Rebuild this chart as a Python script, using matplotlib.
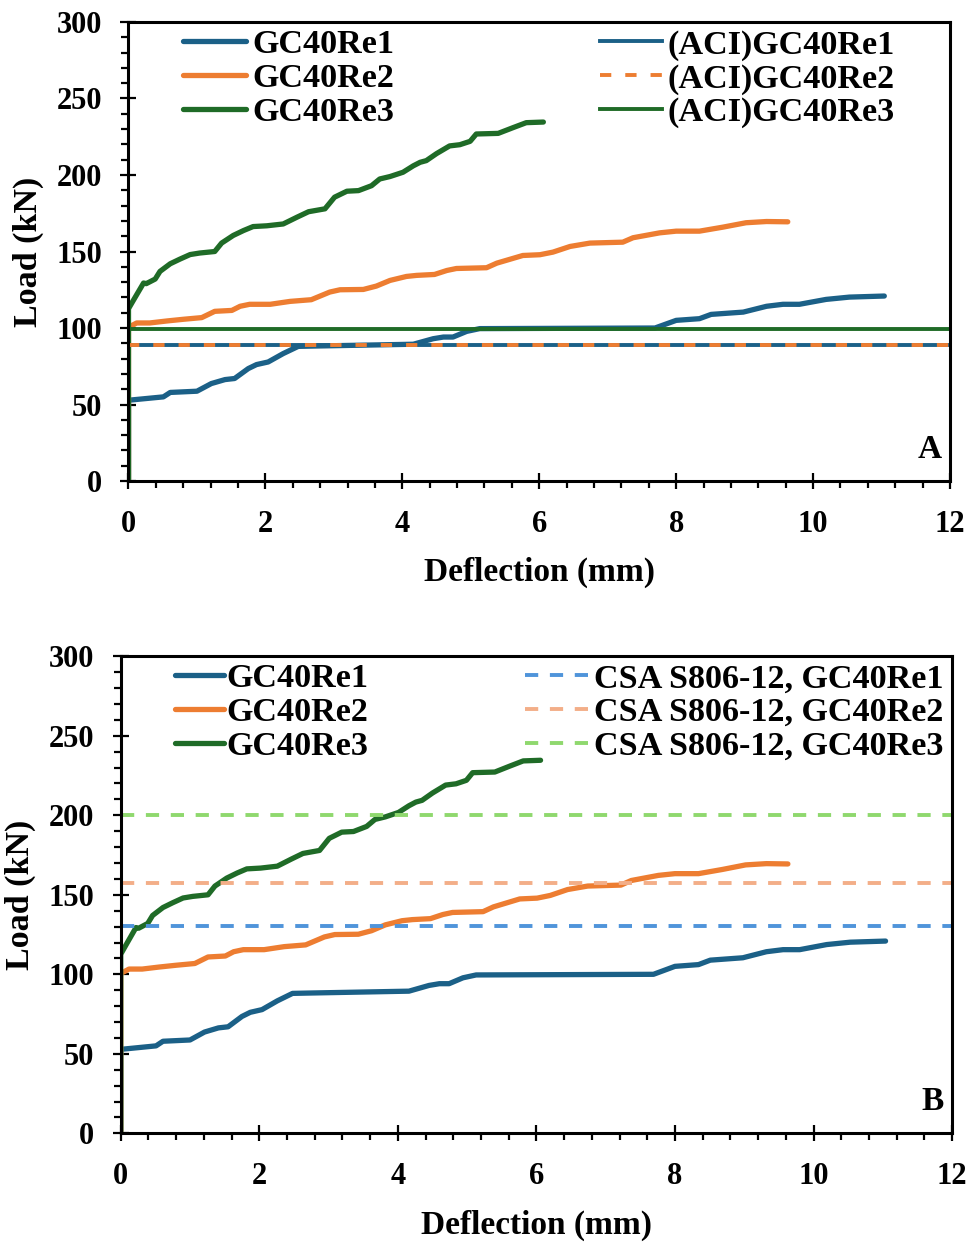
import matplotlib
matplotlib.use("Agg")
import matplotlib.pyplot as plt
from matplotlib.ticker import MultipleLocator

plt.rcParams['font.family'] = ['Liberation Serif', 'DejaVu Serif']
plt.rcParams['font.weight'] = 'bold'

# load-deflection curves (deflection mm, load kN)
re1_x = [0, 0, 0.51, 0.61, 1.00, 1.21, 1.41, 1.55, 1.75, 1.87, 2.04, 2.26, 2.48, 2.70,
         4.16, 4.45, 4.60, 4.74, 4.94, 5.13, 7.69, 8.00, 8.34, 8.51, 8.98, 9.32, 9.56,
         9.80, 10.19, 10.53, 11.04]
re1_y = [0, 52.8, 55, 57.9, 58.7, 63.7, 66.3, 67, 73.5, 76.1, 77.8, 83.3, 88, 88.2,
         89.4, 93, 94.1, 94.1, 97.8, 99.6, 100, 105, 106.1, 108.9, 110.4, 114.2, 115.5,
         115.5, 118.7, 120.2, 120.9]

re2_x = [0, 0, 0.12, 0.31, 0.56, 0.80, 1.07, 1.26, 1.51, 1.63, 1.77, 2.07, 2.36, 2.67,
         2.94, 3.09, 3.43, 3.62, 3.82, 4.06, 4.21, 4.47, 4.65, 4.79, 5.23, 5.38, 5.76,
         6.01, 6.20, 6.45, 6.74, 7.22, 7.37, 7.76, 8.00, 8.34, 8.68, 9.02, 9.32, 9.63]
re2_y = [0, 100.5, 103.3, 103.3, 104.6, 105.7, 106.8, 110.9, 111.5, 114.2, 115.5, 115.5,
         117.4, 118.5, 123.5, 125, 125.2, 127.4, 131.1, 133.7, 134.4, 135, 137.6, 138.9,
         139.4, 142.4, 147.4, 147.9, 149.6, 153.3, 155.5, 156.1, 159, 162.2, 163.3, 163.3,
         165.9, 168.8, 169.6, 169.4]

re3_x = [0, 0, 0.07, 0.22, 0.26, 0.39, 0.46, 0.61, 0.75, 0.90, 1.04, 1.26, 1.36, 1.53,
         1.68, 1.82, 2.02, 2.26, 2.46, 2.63, 2.87, 3.01, 3.19, 3.36, 3.55, 3.67, 3.82,
         4.01, 4.16, 4.26, 4.35, 4.50, 4.69, 4.84, 4.99, 5.08, 5.40, 5.62, 5.81, 6.06]
re3_y = [0, 112.6, 118, 129.4, 129, 132, 137, 142, 145, 148, 149, 150, 155.5, 160.5,
         163.7, 166.3, 166.8, 168, 172.4, 176, 177.9, 185.5, 189.4, 189.8, 193, 197.4,
         199, 201.8, 206, 208.3, 209.4, 214, 219, 219.8, 222, 226.8, 227.2, 231, 234.2,
         234.6]

names = ['GC40Re1', 'GC40Re2', 'GC40Re3']
aci_loads = [88.8, 88.8, 99.6]
csa_loads = [130.4, 157.2, 200]
x_span = [0, 12]

c_main = ['#1b6087', '#ed7d31', '#1f6b27']
c_csa = ['#4f94da', '#f3ae88', '#8fd86e']

fig = plt.figure(figsize=(9.72, 12.42), dpi=100)
axA = fig.add_axes([0.1322, 0.6127, 0.8452, 0.3696])
axB = fig.add_axes([0.1242, 0.0875, 0.8553, 0.3841])

curves = [(re1_x, re1_y), (re2_x, re2_y), (re3_x, re3_y)]

# panel A
h_main = []
for (cx, cy), c, n in zip(curves, c_main, names):
    l, = axA.plot(cx, cy, color=c, lw=3.8, label=n, solid_capstyle='round')
    h_main.append(l)
h_aci = []
l, = axA.plot(x_span, [aci_loads[0]] * 2, color=c_main[0], lw=2.8, label='(ACI)' + names[0])
h_aci.append(l)
l, = axA.plot(x_span, [aci_loads[1]] * 2, color=c_main[1], lw=2.8, dashes=(2.9, 3.6),
              label='(ACI)' + names[1])
h_aci.append(l)
l, = axA.plot(x_span, [aci_loads[2]] * 2, color=c_main[2], lw=2.8, label='(ACI)' + names[2])
h_aci.append(l)

# panel B
h_main_b = []
for (cx, cy), c, n in zip(curves, c_main, names):
    l, = axB.plot(cx, cy, color=c, lw=3.8, label=n, solid_capstyle='round')
    h_main_b.append(l)
h_csa = []
for v, c, n in zip(csa_loads, c_csa, names):
    l, = axB.plot(x_span, [v, v], color=c, lw=2.8, dashes=(3.4, 3.0),
                  label='CSA S806-12, ' + n)
    h_csa.append(l)

leg_kw = dict(frameon=False, fontsize=24.6, borderpad=0, borderaxespad=0,
              labelspacing=0.08, loc='upper left')
lg1 = axA.legend(handles=h_main, bbox_to_anchor=(0.066, 0.984), handlelength=1.85,
                 handletextpad=0.18, **leg_kw)
axA.add_artist(lg1)
axA.legend(handles=h_aci, bbox_to_anchor=(0.574, 0.984), handlelength=1.8,
           handletextpad=0.18, **leg_kw)
lg2 = axB.legend(handles=h_main_b, bbox_to_anchor=(0.065, 0.985), handlelength=1.45,
                 handletextpad=0.06, **leg_kw)
axB.add_artist(lg2)
axB.legend(handles=h_csa, bbox_to_anchor=(0.486, 0.985), handlelength=1.88,
           handletextpad=0.15, **leg_kw)

for ax, tag in [(axA, 'A'), (axB, 'B')]:
    ax.set_xlim(0, 12)
    ax.set_ylim(0, 300)
    ax.xaxis.set_major_locator(MultipleLocator(2))
    ax.xaxis.set_minor_locator(MultipleLocator(0.4))
    ax.yaxis.set_major_locator(MultipleLocator(50))
    ax.yaxis.set_minor_locator(MultipleLocator(10))
    ax.tick_params(which='major', direction='inout', length=12, width=1.6,
                   labelsize=22, pad=13)
    ax.tick_params(axis='x', which='major', pad=15)
    ax.tick_params(which='minor', direction='out', length=5, width=1.6)
    for s in ax.spines.values():
        s.set_linewidth(2.2)
    ax.set_xlabel('Deflection (mm)', fontsize=24, fontweight='bold', labelpad=13)
    ax.set_ylabel('Load (kN)', fontsize=24.5, fontweight='bold', labelpad=9)
    ax.text(0.99, 0.035, tag, transform=ax.transAxes, ha='right', va='bottom',
            fontsize=24, fontweight='bold')

fig.savefig('out.png', dpi=100)
